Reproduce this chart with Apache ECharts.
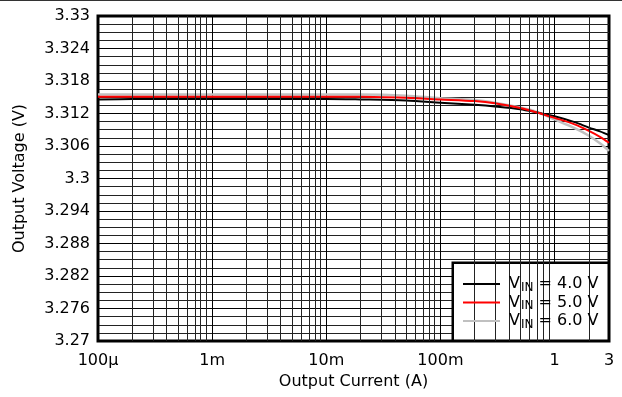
<!DOCTYPE html>
<html>
<head>
<meta charset="utf-8">
<script src="https://cdn.jsdelivr.net/npm/echarts@6/dist/echarts.min.js"></script>
<style>html,body{margin:0;padding:0;background:#fff}#c{width:622px;height:397px}</style>
</head>
<body>
<div id="c"></div>
<script>
// Output current (A)
const currents = [1e-4, 2e-4, 5e-4, 1e-3, 2e-3, 5e-3, 0.01, 0.02, 0.05, 0.1, 0.2, 0.3, 0.5, 0.7, 1, 1.5, 2, 2.5, 3];
// Output voltage (V)
const vin40 = [3.3146, 3.3147, 3.3147, 3.3147, 3.3147, 3.3147, 3.3147, 3.3146, 3.3144, 3.3140, 3.3136, 3.3133, 3.3128, 3.3122, 3.3115, 3.3104, 3.3094, 3.3087, 3.3080];
const vin50 = [3.3151, 3.3151, 3.3151, 3.3151, 3.3151, 3.3151, 3.3151, 3.3151, 3.3149, 3.3146, 3.3143, 3.3139, 3.3130, 3.3122, 3.3112, 3.3100, 3.3088, 3.3077, 3.3066];
const vin60 = [3.3155, 3.3155, 3.3155, 3.3155, 3.3155, 3.3155, 3.3155, 3.3155, 3.3153, 3.3148, 3.3145, 3.3140, 3.3131, 3.3123, 3.3109, 3.3093, 3.3079, 3.3065, 3.3051];
const seriesNames = ['VIN = 4.0 V', 'VIN = 5.0 V', 'VIN = 6.0 V'];
const legendValues = ['4.0 V', '5.0 V', '6.0 V'];
const xTickValues = [1e-4, 1e-3, 1e-2, 1e-1, 1, 3];
const xTickLabels = ['100\u00b5', '1m', '10m', '100m', '1', '3'];
const decades = [1e-4, 1e-3, 1e-2, 1e-1, 1];
const multipliers = [2, 3, 4, 5, 6, 7, 8, 9];

const FONT = 'DejaVu Sans';
const X_MIN = 1e-4, X_MAX = 3;
const minorX = [];
decades.forEach(d => multipliers.forEach(m => { const v = d * m; if (v < X_MAX) minorX.push({xAxis: Math.log10(v)}); }));

function pairs(ys) { return currents.map((c, i) => [c, ys[i]]); }

const chart = echarts.init(document.getElementById('c'), null, {renderer: 'canvas'});
chart.setOption({
  animation: false,
  backgroundColor: '#fff',
  textStyle: {fontFamily: FONT},
  grid: {left: 98, right: 13, top: 16, bottom: 56, show: true, borderColor: '#000', borderWidth: 3, backgroundColor: 'transparent'},
  xAxis: [{
    type: 'log', logBase: 10, min: X_MIN, max: X_MAX,
    name: 'Output Current (A)', nameLocation: 'middle', nameGap: 27,
    nameTextStyle: {fontFamily: FONT, fontSize: 16, color: '#000'},
    axisLine: {show: false}, axisTick: {show: false},
    axisLabel: {
      color: '#000', fontFamily: FONT, fontSize: 16, margin: 12,
      formatter: function (v) {
        for (let i = 0; i < xTickValues.length; i++) {
          if (Math.abs(Math.log10(v) - Math.log10(xTickValues[i])) < 0.01) return xTickLabels[i];
        }
        return '';
      }
    },
    splitLine: {show: true, lineStyle: {color: '#000', width: 1}}
  }, {
    type: 'value', min: Math.log10(X_MIN), max: Math.log10(X_MAX), show: false,
    splitLine: {show: false}
  }],
  yAxis: {
    type: 'value', min: 3.27, max: 3.33, interval: 0.006,
    name: 'Output Voltage (V)', nameLocation: 'middle', nameGap: 70,
    nameTextStyle: {fontFamily: FONT, fontSize: 16, color: '#000'},
    axisLine: {show: false}, axisTick: {show: false},
    axisLabel: {color: '#000', fontFamily: FONT, fontSize: 16, margin: 8},
    splitLine: {show: true, lineStyle: {color: '#000', width: 1}},
    minorTick: {show: false, splitNumber: 4},
    minorSplitLine: {show: true, lineStyle: {color: '#222', width: 1}}
  },
  legend: {
    data: seriesNames, orient: 'vertical', left: 463, top: 276, padding: 0,
    icon: 'rect', itemWidth: 37, itemHeight: 2, itemGap: 1, z: 6,
    formatter: function (name) {
      const i = seriesNames.indexOf(name);
      return '{n|V}{s|IN}{n| = ' + legendValues[i] + '}';
    },
    textStyle: {
      padding: [0, 0, 0, 4],
      rich: {
        n: {fontFamily: FONT, fontSize: 16, color: '#000', lineHeight: 19},
        s: {fontFamily: FONT, fontSize: 12, color: '#000', lineHeight: 19, verticalAlign: 'bottom', padding: [0, 0, 0, 1]}
      }
    }
  },
  graphic: [
    {type: 'rect', left: 0, top: 0, shape: {width: 622, height: 1}, style: {fill: '#333'}, z: 10},
    {type: 'rect', right: 12, bottom: 55, shape: {width: 156, height: 78}, style: {fill: '#fff', stroke: '#000', lineWidth: 2.5}, z: 5}
  ],
  series: [
    {type: 'line', name: '_grid', xAxisIndex: 1, data: [], z: 1, silent: true,
      markLine: {silent: true, symbol: 'none', label: {show: false}, animation: false,
        lineStyle: {color: '#222', width: 1, type: 'solid'}, data: minorX}},
    {type: 'line', name: seriesNames[0], data: pairs(vin40), smooth: 0.3, symbol: 'none', z: 3,
      lineStyle: {color: '#000', width: 2}, itemStyle: {color: '#000'}},
    {type: 'line', name: seriesNames[2], data: pairs(vin60), smooth: 0.3, symbol: 'none', z: 2,
      lineStyle: {color: '#c0c0c0', width: 2.5}, itemStyle: {color: '#c0c0c0'}},
    {type: 'line', name: seriesNames[1], data: pairs(vin50), smooth: 0.3, symbol: 'none', z: 4,
      lineStyle: {color: '#ff0000', width: 2}, itemStyle: {color: '#ff0000'}}
  ]
});
</script>
</body>
</html>
